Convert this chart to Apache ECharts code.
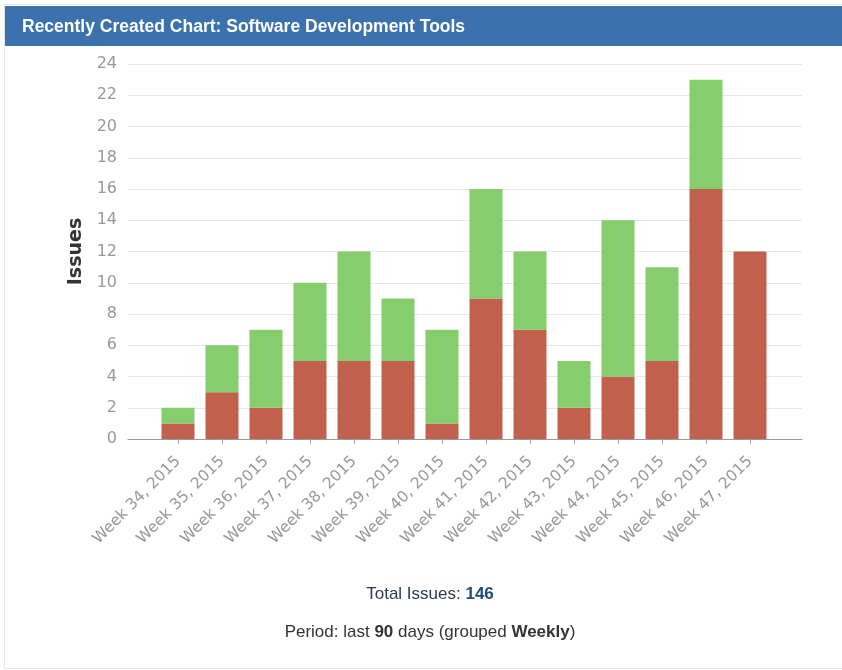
<!DOCTYPE html>
<html><head><meta charset="utf-8">
<script src="https://cdn.jsdelivr.net/npm/echarts@6/dist/echarts.min.js"></script>
<style>html,body{margin:0;padding:0;background:#fff}#c{width:842px;height:670px}</style>
</head><body><div id="c"></div>
<script>
const categories = ['Week 34, 2015','Week 35, 2015','Week 36, 2015','Week 37, 2015','Week 38, 2015','Week 39, 2015','Week 40, 2015','Week 41, 2015','Week 42, 2015','Week 43, 2015','Week 44, 2015','Week 45, 2015','Week 46, 2015','Week 47, 2015'];
const unresolvedValues = [1,3,2,5,5,5,1,9,7,2,4,5,16,12];
const resolvedValues = [1,3,5,5,7,4,6,7,5,3,10,6,7,0];
const totalIssues = 146;
const periodDays = 90;
const yMin = 0, yMax = 24, yStep = 2;

const chart = echarts.init(document.getElementById('c'));
chart.setOption({
  animation: false,
  backgroundColor: '#fff',
  graphic: [
    { type: 'rect', shape: { x: 4.5, y: 4.5, width: 842, height: 664 }, style: { fill: 'none', stroke: '#e6e6e6', lineWidth: 1 }, z: 0 },
    { type: 'rect', shape: { x: 5, y: 6, width: 837, height: 40 }, style: { fill: '#3b72ad' }, z: 1 },
    { type: 'text', x: 430, y: 594, z: 5, style: {
        text: '{n|Total Issues: }{b|' + totalIssues + '}', align: 'center', verticalAlign: 'middle',
        rich: {
          n: { fill: '#2c3a4f', fontFamily: 'Liberation Sans', fontSize: 17, fontWeight: 'normal' },
          b: { fill: '#1e4a7a', fontFamily: 'Liberation Sans', fontSize: 17, fontWeight: 'bold' } } } },
    { type: 'text', x: 430, y: 632, z: 5, style: {
        text: '{n|Period: last }{b|' + periodDays + '}{n| days (grouped }{b|Weekly}{n|)}', align: 'center', verticalAlign: 'middle',
        rich: {
          n: { fill: '#333', fontFamily: 'Liberation Sans', fontSize: 17, fontWeight: 'normal' },
          b: { fill: '#333', fontFamily: 'Liberation Sans', fontSize: 17, fontWeight: 'bold' } } } }
  ],
  title: [
    { text: 'Recently Created Chart: Software Development Tools', left: 22, top: 18, padding: 0,
      textStyle: { color: '#fff', fontFamily: 'Liberation Sans', fontWeight: 'bold', fontSize: 17.5 } }
  ],
  grid: [
    { left: 128, right: 40, top: 64, bottom: 231 },
    { left: 156, right: 70, top: 64, bottom: 231 }
  ],
  xAxis: [
    { type: 'category', gridIndex: 0, data: [''], axisLine: { show: true, lineStyle: { color: '#999', width: 1 } },
      axisTick: { show: false }, axisLabel: { show: false } },
    { type: 'category', gridIndex: 1, data: categories,
      axisLine: { show: false },
      axisTick: { show: true, alignWithLabel: true, length: 5, lineStyle: { color: '#aaa' } },
      axisLabel: { rotate: 45, interval: 0, color: '#999', fontFamily: 'DejaVu Sans', fontSize: 15.5, margin: 20 } }
  ],
  yAxis: [
    { type: 'value', gridIndex: 0, min: yMin, max: yMax, interval: yStep,
      name: 'Issues', nameLocation: 'middle', nameRotate: 90, nameGap: 41,
      nameTextStyle: { color: '#333', fontFamily: 'DejaVu Sans', fontWeight: 'bold', fontSize: 19 },
      axisLine: { show: false }, axisTick: { show: false },
      axisLabel: { color: '#999', fontFamily: 'DejaVu Sans', fontSize: 16, margin: 11 },
      splitLine: { lineStyle: { color: '#e6e6e6', width: 1 } } },
    { type: 'value', gridIndex: 1, min: yMin, max: yMax, interval: yStep, show: false }
  ],
  series: [
    { name: 'Unresolved', type: 'bar', xAxisIndex: 1, yAxisIndex: 1, stack: 'issues', data: unresolvedValues,
      barWidth: 33, itemStyle: { color: '#c0604d' } },
    { name: 'Resolved', type: 'bar', xAxisIndex: 1, yAxisIndex: 1, stack: 'issues', data: resolvedValues,
      barWidth: 33, itemStyle: { color: '#86cd6e' } }
  ]
});
</script></body></html>
